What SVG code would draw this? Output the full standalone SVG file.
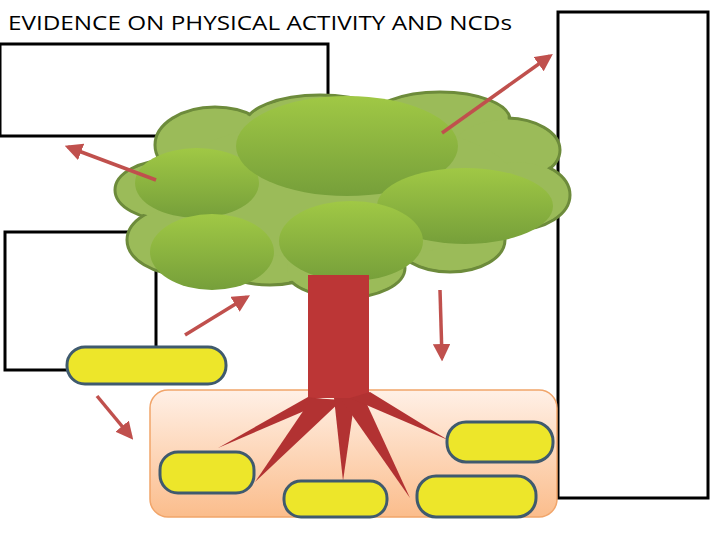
<svg xmlns="http://www.w3.org/2000/svg" width="720" height="540" viewBox="0 0 720 540">
<defs>
<linearGradient id="lg" x1="0" y1="0" x2="0" y2="1"><stop offset="0" stop-color="#a0c845"/><stop offset="1" stop-color="#769f3a"/></linearGradient>
<linearGradient id="soil" x1="0" y1="0" x2="0" y2="1"><stop offset="0" stop-color="#fff0e6"/><stop offset="1" stop-color="#fbbd8c"/></linearGradient>
<marker id="ah" viewBox="0 0 10 10" refX="8" refY="5" markerWidth="5" markerHeight="5" orient="auto"><path d="M0,0 L10,5 L0,10 z" fill="#c0504d"/></marker>
<style>
.box{fill:#fff;stroke:#000;stroke-width:3}
.pill{fill:#ede62a;stroke:#3f5a6e;stroke-width:3}
.arr{stroke:#c0504d;stroke-width:3.5;fill:none;marker-end:url(#ah)}
.leaf{fill:url(#lg)}
.root{fill:#b23232}
</style>
</defs>
<rect width="720" height="540" fill="#fff"/>
<text x="8" y="30" font-family="Open Sans, Liberation Sans, sans-serif" font-size="20" textLength="504" lengthAdjust="spacingAndGlyphs">EVIDENCE ON PHYSICAL ACTIVITY AND NCDs</text>
<g id="box-top-left"><rect class="box" x="0" y="44" width="328" height="92"/></g>
<g id="box-left"><rect class="box" x="5" y="232" width="151" height="138"/></g>
<g id="box-right"><rect class="box" x="558" y="12" width="150" height="486"/></g>
<g id="soil-area"><rect x="150" y="390" width="407" height="127" rx="18" fill="url(#soil)" stroke="#f1a56a" stroke-width="1.5"/></g>
<g id="tree">
<g fill="#9bbb59" stroke="#6d8b3b" stroke-width="3">
<ellipse cx="215" cy="145" rx="60" ry="38"/>
<ellipse cx="320" cy="125" rx="75" ry="30"/>
<ellipse cx="440" cy="120" rx="70" ry="28"/>
<ellipse cx="505" cy="150" rx="55" ry="32"/>
<ellipse cx="515" cy="195" rx="55" ry="35"/>
<ellipse cx="170" cy="190" rx="55" ry="30"/>
<ellipse cx="185" cy="240" rx="58" ry="35"/>
<ellipse cx="270" cy="255" rx="60" ry="30"/>
<ellipse cx="345" cy="268" rx="60" ry="30"/>
<ellipse cx="450" cy="240" rx="55" ry="32"/>
</g>
<g fill="#9bbb59">
<ellipse cx="215" cy="145" rx="58" ry="36"/>
<ellipse cx="320" cy="125" rx="73" ry="28"/>
<ellipse cx="440" cy="120" rx="68" ry="26"/>
<ellipse cx="505" cy="150" rx="53" ry="30"/>
<ellipse cx="515" cy="195" rx="53" ry="33"/>
<ellipse cx="170" cy="190" rx="53" ry="28"/>
<ellipse cx="185" cy="240" rx="56" ry="33"/>
<ellipse cx="270" cy="255" rx="58" ry="28"/>
<ellipse cx="345" cy="268" rx="58" ry="28"/>
<ellipse cx="450" cy="240" rx="53" ry="30"/>
<ellipse cx="340" cy="190" rx="180" ry="70"/>
</g>
<ellipse class="leaf" cx="197" cy="183" rx="62" ry="35"/>
<ellipse class="leaf" cx="347" cy="146" rx="111" ry="50"/>
<ellipse class="leaf" cx="465" cy="206" rx="88" ry="38"/>
<ellipse class="leaf" cx="212" cy="252" rx="62" ry="38"/>
<ellipse class="leaf" cx="351" cy="241" rx="72" ry="40"/>
<rect x="308" y="275" width="61" height="123" fill="#bc3636"/>
<polygon class="root" points="308,397 330,400 218,448"/>
<polygon class="root" points="312,398 342,400 255,482"/>
<polygon class="root" points="334,398 355,398 343,481"/>
<polygon class="root" points="340,398 365,400 410,498"/>
<polygon class="root" points="350,398 370,392 448,440"/>
</g>
<g id="pills">
<rect class="pill" x="67" y="347" width="159" height="37" rx="18"/>
<rect class="pill" x="160" y="452" width="94" height="41" rx="18"/>
<rect class="pill" x="284" y="481" width="103" height="36" rx="17"/>
<rect class="pill" x="417" y="476" width="119" height="41" rx="19"/>
<rect class="pill" x="447" y="422" width="106" height="40" rx="19"/>
</g>
<g id="connectors">
<line class="arr" x1="442" y1="133" x2="550" y2="56"/>
<line class="arr" x1="156" y1="180" x2="68" y2="147"/>
<line class="arr" x1="185" y1="335" x2="247" y2="297"/>
<line class="arr" x1="440" y1="290" x2="442" y2="358"/>
<line class="arr" x1="97" y1="396" x2="131" y2="437"/>
</g>
</svg>
